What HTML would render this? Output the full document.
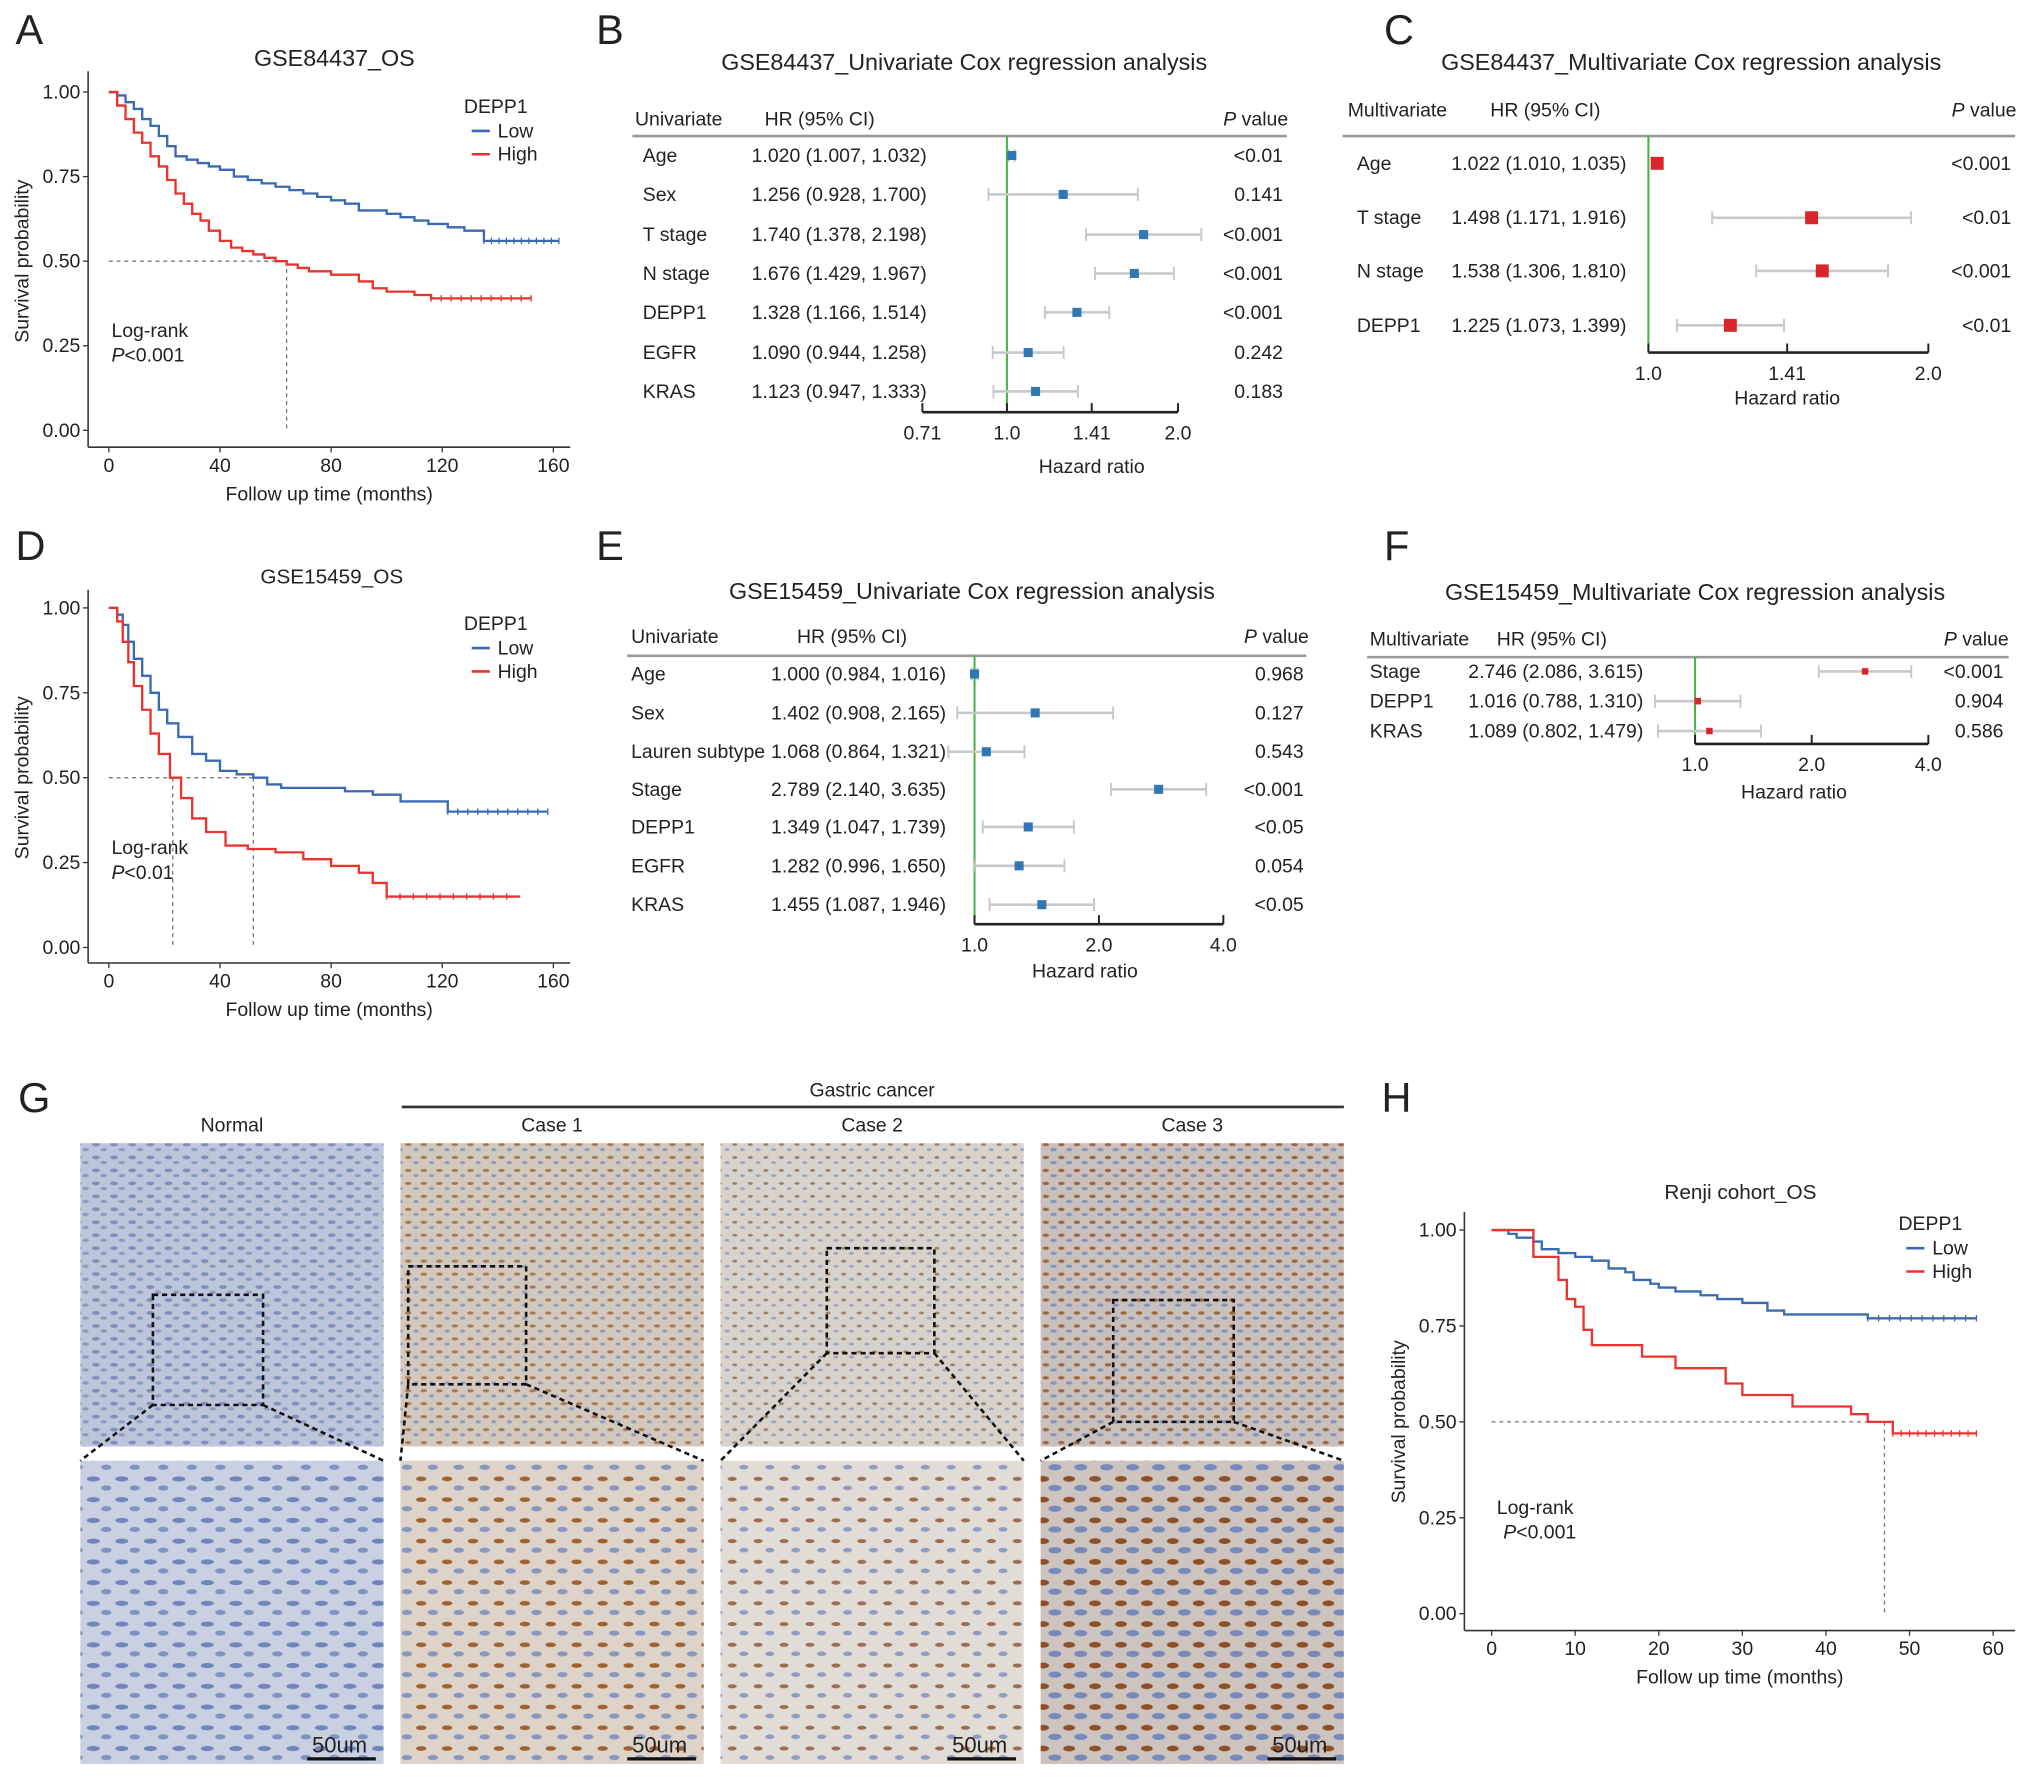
<!DOCTYPE html>
<html><head><meta charset="utf-8"><style>
html,body{margin:0;padding:0;background:#fff}
svg{display:block}
text{font-family:"Liberation Sans",sans-serif;fill:#222}
</style></head><body>
<svg id="fig" width="2032" height="1777" viewBox="0 0 1568 1371" preserveAspectRatio="none" xmlns="http://www.w3.org/2000/svg">
<defs>
<pattern id="pn" width="14" height="10" patternUnits="userSpaceOnUse"><rect width="14" height="10" fill="#bcc5d9"/><ellipse cx="4" cy="3" rx="3" ry="1.5" fill="#7d8fbb"/><ellipse cx="10" cy="7" rx="2.5" ry="1.3" fill="#8a9bc4"/></pattern>
<pattern id="pc1" width="12" height="10" patternUnits="userSpaceOnUse"><rect width="12" height="10" fill="#d2c8be"/><ellipse cx="3" cy="3" rx="2.5" ry="1.2" fill="#a7774f"/><ellipse cx="9" cy="7" rx="2" ry="1.2" fill="#8e9cbf"/></pattern>
<pattern id="pc2" width="12" height="10" patternUnits="userSpaceOnUse"><rect width="12" height="10" fill="#d8d2cc"/><ellipse cx="3" cy="3" rx="2" ry="1.1" fill="#9a8070"/><ellipse cx="9" cy="7" rx="2" ry="1.1" fill="#9aa5c4"/></pattern>
<pattern id="pc3" width="12" height="10" patternUnits="userSpaceOnUse"><rect width="12" height="10" fill="#c9c0bb"/><ellipse cx="3" cy="3" rx="2.5" ry="1.3" fill="#9c6440"/><ellipse cx="9" cy="7" rx="2.5" ry="1.3" fill="#8494bd"/></pattern>
<pattern id="pnb" width="22" height="16" patternUnits="userSpaceOnUse"><rect width="22" height="16" fill="#c8d0e2"/><ellipse cx="6" cy="5" rx="5" ry="2" fill="#6f85bb"/><ellipse cx="16" cy="12" rx="4" ry="2" fill="#7f93c2"/></pattern>
<pattern id="pc1b" width="20" height="16" patternUnits="userSpaceOnUse"><rect width="20" height="16" fill="#ddd3c8"/><ellipse cx="5" cy="5" rx="4" ry="1.8" fill="#a0612f"/><ellipse cx="14" cy="12" rx="4" ry="2" fill="#8897c2"/></pattern>
<pattern id="pc2b" width="20" height="16" patternUnits="userSpaceOnUse"><rect width="20" height="16" fill="#e2dcd6"/><ellipse cx="5" cy="5" rx="3.5" ry="1.6" fill="#9d6d4e"/><ellipse cx="14" cy="12" rx="3.5" ry="1.8" fill="#8e9cc6"/></pattern>
<pattern id="pc3b" width="20" height="16" patternUnits="userSpaceOnUse"><rect width="20" height="16" fill="#cdc4c0"/><ellipse cx="5" cy="5" rx="4.5" ry="2.2" fill="#8f4f25"/><ellipse cx="14" cy="12" rx="5" ry="2.4" fill="#7589bb"/></pattern>
</defs>
<g id="root"></g>
</svg>
<script>
// ---------- data ----------
const aLowT=[0,3,6,9,12,15,18,21,24,28,32,36,40,45,50,55,60,65,70,75,80,85,90,95,100,105,110,115,122,128,135,162];
const aLowS=[1.0,0.99,0.97,0.95,0.92,0.9,0.87,0.84,0.81,0.8,0.79,0.78,0.77,0.75,0.74,0.73,0.72,0.71,0.70,0.69,0.68,0.67,0.65,0.65,0.64,0.63,0.62,0.61,0.6,0.59,0.56,0.56];
const aHighT=[0,3,6,9,12,15,18,21,24,27,30,33,36,40,44,48,52,56,60,64,68,72,76,80,85,90,95,100,105,110,116,152];
const aHighS=[1.0,0.96,0.92,0.88,0.85,0.81,0.78,0.74,0.70,0.67,0.64,0.62,0.59,0.56,0.54,0.53,0.52,0.51,0.5,0.49,0.48,0.47,0.47,0.46,0.46,0.44,0.42,0.41,0.41,0.40,0.39,0.39];
const dLowT=[0,3,5,7,9,12,15,18,21,25,30,35,40,46,52,57,62,70,85,95,105,115,122,158];
const dLowS=[1.0,0.98,0.95,0.9,0.85,0.8,0.75,0.7,0.66,0.62,0.57,0.55,0.52,0.51,0.5,0.48,0.47,0.47,0.46,0.45,0.43,0.43,0.4,0.4];
const dHighT=[0,3,5,7,9,12,15,18,22,26,30,35,42,50,60,70,80,90,95,100,148];
const dHighS=[1.0,0.96,0.9,0.84,0.77,0.7,0.63,0.57,0.5,0.44,0.38,0.34,0.3,0.29,0.28,0.26,0.24,0.22,0.19,0.15,0.15];
const hLowT=[0,2,3,5,6,8,10,12,14,16,17,19,20,22,25,27,30,33,35,40,45,58];
const hLowS=[1.0,0.99,0.98,0.97,0.95,0.94,0.93,0.92,0.9,0.89,0.87,0.86,0.85,0.84,0.83,0.82,0.81,0.79,0.78,0.78,0.77,0.77];
const hHighT=[0,4,5,8,9,10,11,12,18,22,28,30,36,43,45,48,58];
const hHighS=[1.0,1.0,0.93,0.87,0.82,0.80,0.74,0.7,0.67,0.64,0.6,0.57,0.54,0.52,0.5,0.47,0.47];
const xTicks160=[0,40,80,120,160];
const xTicks60=[0,10,20,30,40,50,60];
const yTicks=[0,0.25,0.5,0.75,1.0];

const bVars=["Age","Sex","T stage","N stage","DEPP1","EGFR","KRAS"];
const bHR=[1.020,1.256,1.740,1.676,1.328,1.090,1.123];
const bLo=[1.007,0.928,1.378,1.429,1.166,0.944,0.947];
const bHi=[1.032,1.700,2.198,1.967,1.514,1.258,1.333];
const bP=["<0.01","0.141","<0.001","<0.001","<0.001","0.242","0.183"];
const bTicks=[0.71,1.0,1.41,2.0];
const bTickLabels=["0.71","1.0","1.41","2.0"];

const cVars=["Age","T stage","N stage","DEPP1"];
const cHR=[1.022,1.498,1.538,1.225];
const cLo=[1.010,1.171,1.306,1.073];
const cHi=[1.035,1.916,1.810,1.399];
const cP=["<0.001","<0.01","<0.001","<0.01"];
const cTicks=[1.0,1.41,2.0];
const cTickLabels=["1.0","1.41","2.0"];

const eVars=["Age","Sex","Lauren subtype","Stage","DEPP1","EGFR","KRAS"];
const eHR=[1.000,1.402,1.068,2.789,1.349,1.282,1.455];
const eLo=[0.984,0.908,0.864,2.140,1.047,0.996,1.087];
const eHi=[1.016,2.165,1.321,3.635,1.739,1.650,1.946];
const eP=["0.968","0.127","0.543","<0.001","<0.05","0.054","<0.05"];
const eTicks=[1.0,2.0,4.0];
const eTickLabels=["1.0","2.0","4.0"];

const fVars=["Stage","DEPP1","KRAS"];
const fHR=[2.746,1.016,1.089];
const fLo=[2.086,0.788,0.802];
const fHi=[3.615,1.310,1.479];
const fP=["<0.001","0.904","0.586"];
const fTicks=[1.0,2.0,4.0];
const fTickLabels=["1.0","2.0","4.0"];

// ---------- helpers ----------
const NS="http://www.w3.org/2000/svg";
const root=document.getElementById('root');
function el(tag,attrs,parent,txt){const e=document.createElementNS(NS,tag);for(const k in attrs)e.setAttribute(k,attrs[k]);if(txt!==undefined)e.textContent=txt;(parent||root).appendChild(e);return e;}
function T(x,y,s,size,anchor,parent,extra){const e=el('text',Object.assign({x:x,y:y,'font-size':size||15,'text-anchor':anchor||'start'},extra||{}),parent,s);return e;}
function L(x1,y1,x2,y2,stroke,w,parent,dash){const a={x1:x1,y1:y1,x2:x2,y2:y2,stroke:stroke,'stroke-width':w||1};if(dash)a['stroke-dasharray']=dash;return el('line',a,parent);}

function km(g,cfg){
  const sx=t=>cfg.x0+(t-cfg.t0)/(cfg.t1-cfg.t0)*(cfg.x1-cfg.x0);
  const sy=s=>cfg.y0+(1-s)*(cfg.y1-cfg.y0);
  L(cfg.ax,cfg.axTop,cfg.ax,cfg.axB,'#333',1.2,g);
  L(cfg.ax,cfg.axB,cfg.axR,cfg.axB,'#333',1.2,g);
  cfg.xt.forEach(v=>{const x=sx(v);L(x,cfg.axB,x,cfg.axB+4,'#333',1,g);const t=T(x,cfg.axB+19,String(v),15,'middle',g);});
  yTicks.forEach(v=>{const y=sy(v);L(cfg.ax-4,y,cfg.ax,y,'#333',1,g);const t=T(cfg.ax-6,y+5,v.toFixed(2),15,'end',g);});
  L(sx(cfg.t0),sy(0.5),sx(cfg.medMax),sy(0.5),'#777',1,g,'3,3');
  cfg.meds.forEach(m=>L(sx(m),sy(0.5),sx(m),sy(0),'#777',1,g,'3,3'));
  function curve(ts,ss,col,name){
    let d='M'+sx(ts[0])+','+sy(ss[0]);
    for(let i=1;i<ts.length;i++){d+=' H'+sx(ts[i])+' V'+sy(ss[i]);}
    const p=el('path',{d:d,fill:'none',stroke:col,'stroke-width':1.8},g);
    
    
    const n=ts.length;const a=ts[n-2],b=ts[n-1];
    for(let t=a;t<=b;t+=(b-a)/10){L(sx(t),sy(ss[n-1])-2.5,sx(t),sy(ss[n-1])+2.5,col,1,g);}
  }
  curve(cfg.lowT,cfg.lowS,'#3a6bb0','low-curve');
  curve(cfg.highT,cfg.highS,'#e8342f','high-curve');
  const lg=el('g',{},g);
  T(cfg.lgx,cfg.lgy,'DEPP1',15,'start',lg);
  L(cfg.lgx+6,cfg.lgy+14,cfg.lgx+20,cfg.lgy+14,'#3a6bb0',2,lg);T(cfg.lgx+26,cfg.lgy+19,'Low',15,'start',lg);
  L(cfg.lgx+6,cfg.lgy+32,cfg.lgx+20,cfg.lgy+32,'#e8342f',2,lg);T(cfg.lgx+26,cfg.lgy+37,'High',15,'start',lg);
  T(cfg.lrx,cfg.lry,'Log-rank',15,'start',g);
  const p=T(cfg.lrx+cfg.pdx,cfg.lry+19,'',15,'start',g);
  el('tspan',{'font-style':'italic'},p,'P');el('tspan',{},p,cfg.ptxt);
  T(cfg.title[0],cfg.title[1],cfg.title[2],cfg.title[3],'middle',g);
  T((cfg.ax+cfg.axR)/2,cfg.axB+41,'Follow up time (months)',15,'middle',g);
  const yt=T(0,0,'Survival probability',15,'middle',g);yt.setAttribute('transform','translate('+cfg.ytx+','+((cfg.y0+cfg.y1)/2)+') rotate(-90)');
}

function forest(g,cfg){
  const sx=v=>cfg.xc+Math.log2(v)*cfg.k;
  T(cfg.title[0],cfg.title[1],cfg.title[2],18,'middle',g);
  T(cfg.hx[0],cfg.hy,cfg.head,15,'start',g);
  T(cfg.hx[1],cfg.hy,'HR (95% CI)',15,'start',g);
  const pv=T(cfg.pr,cfg.hy,'',15,'end',g);el('tspan',{'font-style':'italic'},pv,'P');el('tspan',{},pv,' value');
  L(cfg.lx0,cfg.ly,cfg.lx1,cfg.ly,'#999',2,g);
  L(sx(1),cfg.ly,sx(1),cfg.axY,'#4cb34a',1.6,g);
  L(sx(cfg.ticks[0]),cfg.axY,sx(cfg.ticks[cfg.ticks.length-1]),cfg.axY,'#222',2,g);
  cfg.ticks.forEach((v,i)=>{const x=sx(v);L(x,cfg.axY,x,cfg.axY-7,'#222',1.5,g);const t=T(x,cfg.axY+21,cfg.tl[i],15,'middle',g);});
  T(sx(cfg.mid),cfg.axY+cfg.hrDy,'Hazard ratio',15,'middle',g);
  cfg.vars.forEach((v,i)=>{
    const y=cfg.rows[i];
    T(cfg.vx,y+5,v,15,'start',g);
    T(cfg.hrx,y+5,cfg.hr[i].toFixed(3)+' ('+cfg.lo[i].toFixed(3)+', '+cfg.hi[i].toFixed(3)+')',15,'start',g);
    T(cfg.pr-4,y+5,cfg.p[i],15,'end',g);
    const ci=L(sx(cfg.lo[i]),y,sx(cfg.hi[i]),y,'#c8c8c8',2,g);
    
    L(sx(cfg.lo[i]),y-5,sx(cfg.lo[i]),y+5,'#c8c8c8',1.5,g);L(sx(cfg.hi[i]),y-5,sx(cfg.hi[i]),y+5,'#c8c8c8',1.5,g);
    const s=cfg.sq;
    const r=el('rect',{x:sx(cfg.hr[i])-s/2,y:y-s/2,width:s,height:s,fill:cfg.col},g);
    
    
  });
}

function panel(name){const g=el('g',{});return g;}

[['A',12,34],['B',460,34],['C',1068,34],['D',12,432],['E',460,432],['F',1068,432],['G',14,858],['H',1066,858]].forEach(a=>{const t=T(a[1],a[2],a[0],32,'start');});

km(panel('km-plot-a'),{x0:84,x1:427,t0:0,t1:160,y0:71,y1:332,ax:68,axTop:55,axB:345,axR:440,xt:xTicks160,lowT:aLowT,lowS:aLowS,highT:aHighT,highS:aHighS,medMax:64,meds:[64],lgx:358,lgy:87,lrx:86,lry:260,pdx:0,ptxt:'<0.001',title:[258,51,'GSE84437_OS',18],ytx:22});
km(panel('km-plot-d'),{x0:84,x1:427,t0:0,t1:160,y0:469,y1:731,ax:68,axTop:455,axB:743,axR:440,xt:xTicks160,lowT:dLowT,lowS:dLowS,highT:dHighT,highS:dHighS,medMax:52,meds:[23,52],lgx:358,lgy:486,lrx:86,lry:659,pdx:0,ptxt:'<0.01',title:[256,450,'GSE15459_OS',16],ytx:22});
km(panel('km-plot-h'),{x0:1151,x1:1538,t0:0,t1:60,y0:949,y1:1245,ax:1130,axTop:935,axB:1258,axR:1555,xt:xTicks60,lowT:hLowT,lowS:hLowS,highT:hHighT,highS:hHighS,medMax:47,meds:[47],lgx:1465,lgy:949,lrx:1155,lry:1168,pdx:5,ptxt:'<0.001',title:[1343,925,'Renji cohort_OS',16],ytx:1084});

forest(panel('forest-b'),{title:[744,54,'GSE84437_Univariate Cox regression analysis'],head:'Univariate',hx:[490,590],hy:97,pr:994,lx0:488,lx1:993,ly:105,xc:777,k:132,axY:318,ticks:bTicks,tl:bTickLabels,mid:1.41,hrDy:47,vars:bVars,hr:bHR,lo:bLo,hi:bHi,p:bP,rows:[120,150,181,211,241,272,302],vx:496,hrx:580,sq:7,col:'#2f78b4'});
forest(panel('forest-c'),{title:[1305,54,'GSE84437_Multivariate Cox regression analysis'],head:'Multivariate',hx:[1040,1150],hy:90,pr:1556,lx0:1036,lx1:1555,ly:105,xc:1272,k:216,axY:272,ticks:cTicks,tl:cTickLabels,mid:1.41,hrDy:40,vars:cVars,hr:cHR,lo:cLo,hi:cHi,p:cP,rows:[126,168,209,251],vx:1047,hrx:1120,sq:10,col:'#d9262a'});
forest(panel('forest-e'),{title:[750,462,'GSE15459_Univariate Cox regression analysis'],head:'Univariate',hx:[487,615],hy:496,pr:1010,lx0:484,lx1:1008,ly:506,xc:752,k:96,axY:713,ticks:eTicks,tl:eTickLabels,mid:1.85,hrDy:41,vars:eVars,hr:eHR,lo:eLo,hi:eHi,p:eP,rows:[520,550,580,609,638,668,698],vx:487,hrx:595,sq:7,col:'#2f78b4'});
forest(panel('forest-f'),{title:[1308,463,'GSE15459_Multivariate Cox regression analysis'],head:'Multivariate',hx:[1057,1155],hy:498,pr:1550,lx0:1055,lx1:1550,ly:507,xc:1308,k:90,axY:574,ticks:fTicks,tl:fTickLabels,mid:1.8,hrDy:42,vars:fVars,hr:fHR,lo:fLo,hi:fHi,p:fP,rows:[518,541,564],vx:1057,hrx:1133,sq:5,col:'#d9262a'});

const G=panel('ihc-panel-g');
T(673,846,'Gastric cancer',15,'middle',G);
L(310,854,1037,854,'#333',2,G);
const cols=[[62,'Normal','pn','pnb'],[309,'Case 1','pc1','pc1b'],[556,'Case 2','pc2','pc2b'],[803,'Case 3','pc3','pc3b']];
const boxes=[[118,999,203,1084],[315,977,406,1068],[638,963,721,1044],[859,1003,952,1097]];
cols.forEach((c,i)=>{
  const x=c[0];
  T(x+117,873,c[1],15,'middle',G);
  const r1=el('rect',{x:x,y:882,width:234,height:234,fill:'url(#'+c[2]+')'},G);
  
  const r2=el('rect',{x:x,y:1127,width:234,height:234,fill:'url(#'+c[3]+')'},G);
  
  const b=boxes[i];
  el('rect',{x:b[0],y:b[1],width:b[2]-b[0],height:b[3]-b[1],fill:'none',stroke:'#111','stroke-width':2,'stroke-dasharray':'4,3'},G);
  L(b[0],b[3],x,1127,'#111',2,G,'4,3');L(b[2],b[3],x+234,1127,'#111',2,G,'4,3');
  T(x+200,1352,'50um',17,'middle',G);
  L(x+175,1357,x+228,1357,'#111',2.5,G);
});
</script>
</body></html>
